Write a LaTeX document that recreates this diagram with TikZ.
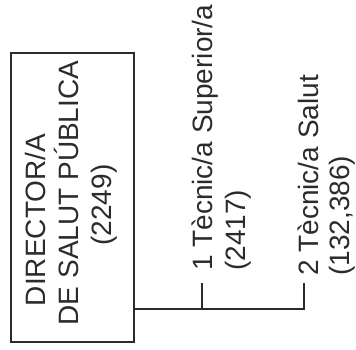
\documentclass[tikz,border=0pt]{standalone}
\usepackage{fontspec}
\setmainfont{Liberation Sans}
\definecolor{ink}{HTML}{2B2B2B}
\begin{document}
\begin{tikzpicture}[x=1pt,y=1pt,
  line/.style={draw=ink,line width=1.4pt},
  lbl/.style={rotate=90,inner sep=0pt,text=ink,font=\fontsize{28}{33}\selectfont},
  boxst/.style={draw=ink,line width=1.4pt,inner sep=0pt,minimum width=123pt,minimum height=289pt}]
\useasboundingbox (0,0) rectangle (356,349);
% director box
\node[boxst] (dir) at (72.5,151.5) {};
\node[lbl,anchor=base] (d1) at (45,129) {DIRECTOR/A};
\node[lbl,anchor=base] (d2) at (78,156) {DE SALUT PÚBLICA};
\node[lbl,anchor=base] (d3) at (111,144) {(2249)};
% staff labels
\node[lbl,anchor=base west] (s1a) at (212,78) {1 Tècnic/a Superior/a};
\node[lbl,anchor=base west] (s1b) at (245,78) {(2417)};
\node[lbl,anchor=base west] (s2a) at (318,73) {2 Tècnic/a Salut};
\node[lbl,anchor=base west] (s2b) at (349,73) {(132,386)};
% connectors
\coordinate (k1) at (202,40);
\coordinate (k2) at (304,40);
\coordinate (k1top) at (202,66);
\coordinate (k2top) at (304,66);
\draw[line] (dir.east |- k1) -- (k2) -- (k2top);
\draw[line] (k1) -- (k1top);
\end{tikzpicture}
\end{document}
